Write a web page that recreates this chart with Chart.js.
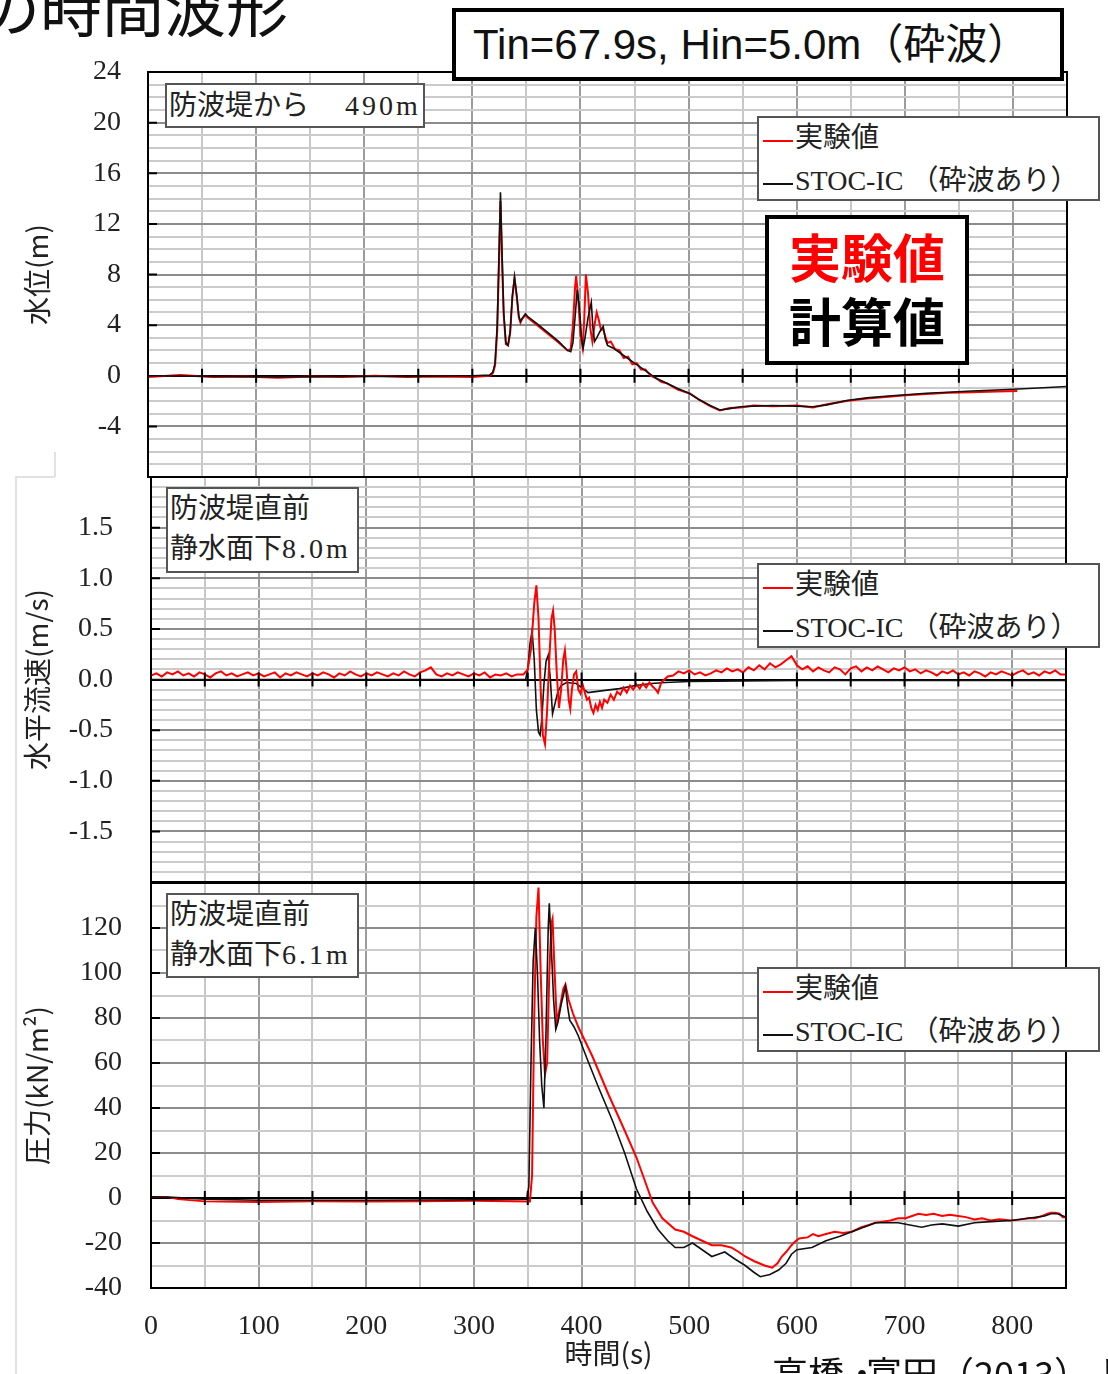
<!DOCTYPE html>
<html>
<head>
<meta charset="utf-8">
<script src="https://cdn.jsdelivr.net/npm/chart.js@4.4.1/dist/chart.umd.min.js"></script>
<style>
  body { margin: 0; width: 1108px; height: 1374px; overflow: hidden; background: #fff; position: relative;
         font-family: "Noto Sans CJK JP", sans-serif; color: #111; }
  canvas { position: absolute; left: 0; }
  .ov { position: absolute; z-index: 5; box-sizing: border-box; }
  .title { left: -22px; top: -26px; font-size: 62px; line-height: 1; white-space: nowrap; }
  .cond { left: 452px; top: 8px; width: 612px; height: 73px; border: 4px solid #000; background: #fff;
          font-family: "Liberation Sans", "Noto Sans CJK JP", sans-serif; font-size: 42px; line-height: 65px; padding-left: 17px; white-space: nowrap; }
  .big { left: 765px; top: 215px; width: 204px; height: 150px; border: 4px solid #000; background: #fff;
         font-weight: bold; font-size: 52px; line-height: 64px; text-align: center; padding-top: 5px; }
  .legend, .note { border: 2px solid #555; background: #fff; font-family: "Liberation Serif", "Noto Sans CJK JP", serif;
         font-size: 28px; color: #222; white-space: nowrap; }
  .legend { left: 757px; width: 343px; height: 85px; }
  .lrow { position: absolute; left: 4px; height: 40px; line-height: 40px; }
  .sw { display: inline-block; width: 30px; height: 2px; vertical-align: middle; margin-right: 2px; }
  .note { line-height: 40px; padding-left: 2px; }
  .lat { letter-spacing: 3px; }
  .cite { left: 772px; top: 1354px; font-size: 36px; line-height: 1; white-space: nowrap; }
  .dot { display: inline-block; width: 22px; text-align: center; overflow: visible; }
  .edge { left: 15px; top: 476px; width: 40px; height: 900px; border-left: 2px solid #e2e2e2; border-top: 2px solid #e2e2e2; z-index: 0; }
  .edge2 { left: 54px; top: 452px; width: 2px; height: 25px; background: #e2e2e2; z-index: 0; }
</style>
</head>
<body>
<div class="ov title">の時間波形</div>
<div class="ov cond">Tin=67.9s, Hin=5.0m（砕波）</div>
<div class="ov edge"></div>
<div class="ov edge2"></div>

<canvas id="c1" width="1108" height="438" style="top:42px"></canvas>
<canvas id="c2" width="1108" height="420" style="top:470px"></canvas>
<canvas id="c3" width="1108" height="501" style="top:873px"></canvas>

<div class="ov big"><div style="color:#ff0000">実験値</div><div style="color:#000">計算値</div></div>
<div class="ov note" style="left:165px;top:83px;width:260px;height:45px;line-height:41px">防波堤から　<span class="lat" style="margin-left:8px">490m</span></div>
<div class="ov note" style="left:166px;top:487px;width:193px;height:86px">防波堤直前<br>静水面下<span class="lat">8.0m</span></div>
<div class="ov note" style="left:166px;top:893px;width:193px;height:85px">防波堤直前<br>静水面下<span class="lat">6.1m</span></div>
<div class="ov cite">高橋<span class="dot">・</span>富田（2013）より</div>

<script>
// series names
const seriesNames = ['実験値', 'STOC-IC （砕波あり）'];

// x axis (time, s)
const timeTicks = [50, 100, 150, 200, 250, 300, 350, 400, 450, 500, 550, 600, 650, 700, 750, 800];

// water level (m), 490 m from the breakwater
const wlExp = [[0,-0.1],[30,0.05],[60,-0.1],[90,-0.05],[120,-0.15],[150,-0.05],[180,-0.1],[210,0.0],[240,-0.1],[270,-0.05],[300,-0.1],
  [316,0.0],[319,0.2],[321,0.8],[323,3.5],[324.5,8.5],[326,13.8],[327.5,9.0],[329,4.8],[331,2.5],[333,2.4],[335,3.4],[337,6.2],[339,7.7],
  [341,6.3],[343,4.6],[344.5,4.2],[346,4.5],[349,4.8],[351,4.6],[360,4.0],[370,3.3],[380,2.6],[388,2.0],[391,2.1],[393,4.0],[395,7.0],
  [396,7.9],[398,6.0],[400,3.2],[402,2.2],[403.5,4.5],[405,8.0],[407,6.5],[409,3.8],[411,2.7],[413,4.0],[415,5.0],[417,4.4],[419,3.6],
  [421,3.7],[423,3.1],[425,2.6],[428,2.7],[432,2.1],[436,2.0],[440,1.4],[444,1.5],[448,0.9],[452,1.0],[456,0.5],[460,0.5],[465,0.0],
  [470,-0.2],[475,-0.5],[480,-0.6],[490,-1.1],[501,-1.4],[510,-1.9],[520,-2.4],[529,-2.75],[538,-2.55],[548,-2.5],[560,-2.35],[578,-2.4],
  [600,-2.35],[615,-2.5],[628,-2.25],[646,-2.0],[665,-1.8],[685,-1.65],[701,-1.55],[720,-1.45],[740,-1.35],[762,-1.3],[785,-1.25],[804,-1.2]];
const wlCalc = [[0,0],[60,-0.05],[120,-0.1],[180,-0.05],[240,-0.05],[300,0],[316,0.05],[319,0.3],[321,1.0],[323,4.0],[324.5,9.0],[326,14.5],
  [327.5,9.5],[329,5.0],[331,2.6],[333,2.4],[335,3.5],[337,6.3],[339,7.8],[341,6.4],[343,4.7],[344.5,4.3],[346,4.5],[349,4.9],[351,4.7],
  [360,4.1],[370,3.4],[380,2.7],[388,2.0],[391,1.9],[393,2.6],[395,4.6],[397,6.8],[399,5.4],[401,3.0],[402.5,2.2],[404,2.9],[407,4.6],
  [410,5.8],[411.5,3.8],[413,2.7],[415,3.0],[418,3.5],[421,3.9],[423,2.9],[425,2.4],[430,2.2],[440,1.6],[450,1.0],[460,0.4],[470,-0.2],
  [480,-0.6],[490,-1.0],[501,-1.4],[510,-1.9],[520,-2.35],[529,-2.7],[538,-2.6],[548,-2.45],[560,-2.4],[578,-2.35],[600,-2.4],[615,-2.45],
  [628,-2.3],[646,-1.95],[665,-1.75],[685,-1.6],[701,-1.5],[720,-1.38],[740,-1.3],[762,-1.2],[785,-1.12],[805,-1.05],[828,-0.95],[850,-0.85]];

// horizontal velocity (m/s), 8.0 m below still water level
const velExp = [[0,0.04],[5,0.06],[10,0.03],[15,0.07],[20,0.05],[25,0.08],[30,0.04],[35,0.06],[40,0.03],[45,0.07],[50,0.05],[55,0.02],
  [60,0.06],[65,0.08],[70,0.04],[75,0.06],[80,0.03],[85,0.05],[90,0.07],[95,0.04],[100,0.06],[105,0.03],[110,0.05],[115,0.07],[120,0.02],
  [125,0.06],[130,0.04],[135,0.07],[140,0.05],[145,0.03],[150,0.06],[155,0.04],[160,0.07],[165,0.05],[170,0.02],[175,0.06],[180,0.04],
  [185,0.08],[190,0.05],[195,0.03],[200,0.06],[205,0.04],[210,0.07],[215,0.05],[220,0.03],[225,0.06],[230,0.04],[235,0.08],[240,0.05],
  [245,0.03],[250,0.07],[255,0.09],[260,0.12],[265,0.05],[270,0.03],[275,0.06],[280,0.04],[285,0.07],[290,0.05],[295,0.03],[300,0.06],
  [305,0.04],[310,0.07],[315,0.02],[320,0.05],[325,0.04],[330,0.06],[335,0.03],[340,0.05],[346,0.05],
  [350,0.1],[353,0.3],[356,0.75],[358,0.93],[360,0.6],[362,-0.1],[364,-0.55],[366,-0.64],[368,-0.3],[370,0.2],[372,0.6],[373.5,0.68],
  [375,0.5],[377,0.05],[379,-0.28],[381,-0.1],[383,0.2],[384.5,0.29],[386,0.1],[388,-0.2],[389.5,-0.29],[391,-0.1],[393,0.05],[395,0.08],
  [397,-0.1],[399,-0.14],[401,-0.05],[403,-0.13],[405,-0.2],[407,-0.18],[409,-0.28],[411,-0.33],[413,-0.25],[415,-0.3],[417,-0.22],
  [419,-0.28],[421,-0.2],[424,-0.23],[427,-0.15],[430,-0.2],[433,-0.12],[436,-0.15],[439,-0.08],[442,-0.13],[445,-0.06],[448,-0.1],
  [451,-0.05],[454,-0.09],[457,-0.04],[460,-0.08],[463,-0.03],[466,-0.07],[469,-0.1],[471,-0.13],[474,-0.03],[477,0.0],[480,0.03],
  [485,0.04],[490,0.08],[495,0.06],[500,0.09],[505,0.05],[510,0.07],[515,0.04],[520,0.06],[525,0.09],[530,0.07],[535,0.11],[540,0.08],
  [545,0.1],[550,0.07],[555,0.12],[560,0.09],[565,0.14],[570,0.1],[575,0.16],[580,0.12],[585,0.15],[590,0.19],[595,0.23],[600,0.14],
  [605,0.1],[610,0.13],[615,0.08],[620,0.12],[625,0.09],[630,0.07],[635,0.12],[640,0.1],[645,0.05],[650,0.11],[655,0.13],[660,0.08],
  [665,0.12],[670,0.09],[675,0.13],[680,0.1],[685,0.07],[690,0.11],[695,0.09],[700,0.12],[705,0.08],[710,0.1],[715,0.06],[720,0.09],
  [725,0.07],[730,0.04],[735,0.08],[740,0.06],[745,0.09],[750,0.05],[755,0.07],[760,0.04],[765,0.08],[770,0.06],[775,0.03],[780,0.07],
  [785,0.05],[790,0.08],[795,0.06],[800,0.04],[805,0.07],[810,0.09],[815,0.05],[820,0.07],[825,0.04],[830,0.08],[835,0.06],[840,0.09],
  [845,0.05],[850,0.05]];
const velCalc = [[0,0],[348,0],[350,0.1],[352,0.35],[354,0.48],[356,0.2],[358,-0.3],[360,-0.52],[361.5,-0.55],[363,-0.4],[365,-0.05],
  [367,0.18],[369,0.24],[371,0.0],[373,-0.34],[375,-0.25],[378,-0.12],[381,-0.06],[386,-0.03],[395,-0.04],[400,-0.08],[406,-0.13],
  [420,-0.11],[435,-0.09],[450,-0.06],[465,-0.04],[478,-0.03],[500,-0.02],[600,-0.01],[850,-0.01]];

// pressure (kN/m2), 6.1 m below still water level
const presExp = [[0,0.5],[15,0.5],[25,-0.5],[50,-1.5],[100,-1.8],[150,-1.5],[200,-1.6],[250,-1.4],[300,-1.2],[352,-1.5],[354,10],
  [356,80],[358,125],[360,138],[362,100],[364,70],[366,55],[368,60],[370,100],[372,122],[373,124],[375,100],[377,78],[380,85],[383,93],
  [385,95],[388,88],[392,82],[397,76],[410,63],[425,46],[440,30],[451,18],[460,6],[466,-2],[475,-9],[487,-14],[495,-15],[503,-17],
  [512,-19],[521,-21],[530,-21],[539,-22],[546,-24],[552,-26],[560,-28],[565,-29],[570,-30],[577,-31],[582,-29],[586,-26],[590,-24],
  [595,-21],[598,-19.5],[602,-18],[610,-17.5],[615,-16],[620,-17],[627,-16],[635,-15],[643,-15.5],[651,-15],[660,-13],[667,-12],[673,-11],
  [680,-10.5],[687,-10],[694,-9],[701,-9],[707,-8],[713,-7],[720,-7.5],[727,-7],[735,-8],[742,-7.5],[750,-8],[757,-8.5],[765,-9.5],
  [772,-9],[780,-10],[788,-9.5],[799,-10],[808,-9.5],[815,-9],[821,-9],[828,-8],[833,-7],[836,-6.5],[840,-6.5],[844,-7],[847,-8.5],[850,-8.5]];
const presCalc = [[0,0.5],[20,0.3],[50,-0.5],[100,-1.0],[200,-1.0],[300,-0.8],[349,-0.5],[351,5],[353,60],[355,105],[357,120],[359,100],
  [361,70],[363,50],[365,40],[367,75],[369,120],[370,131],[372,110],[374,88],[376,75],[378,78],[381,86],[385,94],[387,85],[389,79],
  [393,76],[397,72],[405,62],[415,50],[429,34],[440,20],[451,4],[461,-6],[471,-14],[480,-19],[487,-22],[495,-22],[503,-20],[512,-23],
  [521,-26],[527,-25],[533,-24],[542,-27],[552,-30],[560,-33],[566,-35],[575,-34],[583,-32],[590,-29],[595,-25],[600,-23],[614,-22],
  [627,-19],[640,-17],[651,-15],[662,-13],[673,-11],[685,-11],[694,-11],[705,-12],[716,-13],[725,-12],[735,-11.5],[750,-12.5],[765,-11],
  [780,-10.5],[799,-10],[815,-9],[830,-8],[836,-7],[842,-7],[850,-8.5]];

const tickFont = { family: 'Liberation Serif', size: 28 };
const titleFont = { family: 'Noto Sans CJK JP', size: 28 };

// frame + inward ticks like the original figure
const framePlugin = {
  id: 'frame',
  afterDatasetsDraw(chart, args, opts) {
    const { ctx, chartArea: a, scales } = chart;
    ctx.save();
    ctx.strokeStyle = '#000';
    ctx.lineWidth = 2;
    ctx.beginPath();
    opts.yMarks.forEach(v => {
      const py = scales.y.getPixelForValue(v);
      ctx.moveTo(a.left, py); ctx.lineTo(a.left + 9, py);
    });
    const zy = scales.y.getPixelForValue(0);
    timeTicks.forEach(v => {
      const px = scales.x.getPixelForValue(v);
      ctx.moveTo(px, zy - 7); ctx.lineTo(px, zy + 7);
    });
    ctx.stroke();
    ctx.strokeRect(a.left, a.top, a.right - a.left, a.bottom - a.top);
    ctx.restore();
  }
};

function toXY(arr) {
  return arr.map(p => ({ x: p[0], y: p[1] }));
}

function makeChart(id, c) {
  return new Chart(document.getElementById(id), {
    type: 'line',
    data: {
      datasets: [
        { label: seriesNames[0], data: toXY(c.exp), borderColor: '#ff0000', borderWidth: 2, order: c.expOrder },
        { label: seriesNames[1], data: toXY(c.calc), borderColor: '#111', borderWidth: 1.6, order: c.calcOrder }
      ]
    },
    options: {
      responsive: false,
      animation: false,
      events: [],
      layout: { padding: c.pad },
      elements: { point: { radius: 0 }, line: { tension: 0 } },
      plugins: { legend: { display: false }, tooltip: { enabled: false }, frame: { yMarks: c.yMarks } },
      scales: {
        x: {
          type: 'linear', min: 0, max: 850,
          ticks: { stepSize: 50, autoSkip: false, maxRotation: 0, display: c.showX, padding: 22,
                   font: tickFont, color: '#222', callback: v => (v % 100 === 0 ? v : '') },
          grid: { drawTicks: false, lineWidth: 2,
                  color: ctx => (ctx.tick && ctx.tick.value % 100 === 0 ? '#9c9c9c' : '#c8c8c8') },
          border: { display: false },
          title: { display: c.showX, text: '時間(s)', font: titleFont, color: '#222', padding: { top: 0, bottom: 4 } },
          afterFit: s => { s.height = c.xHeight; s.paddingLeft = 0; s.paddingRight = 0; }
        },
        y: {
          type: 'linear', min: c.yMin, max: c.yMax,
          ticks: { stepSize: c.yStep, autoSkip: false, padding: c.labelPad, font: tickFont, color: '#222',
                   callback: v => (c.isLabel(v) ? c.fmt(v) : '') },
          grid: { drawTicks: false, lineWidth: 2,
                  color: ctx => {
                    const v = ctx.tick ? ctx.tick.value : 1;
                    if (Math.abs(v) < 1e-9) return '#000';
                    return c.isLabel(v) ? '#8c8c8c' : '#cbcbcb';
                  } },
          border: { display: false },
          title: { display: true, text: c.yTitle, font: titleFont, color: '#222', padding: { top: 21, bottom: 0 } },
          afterFit: s => { s.width = c.yWidth; s.paddingTop = 0; s.paddingBottom = 0; }
        }
      }
    },
    plugins: [framePlugin]
  });
}

const near = (v, m) => Math.abs(v / m - Math.round(v / m)) < 1e-6;

makeChart('c1', {
  exp: wlExp, calc: wlCalc, expOrder: 1, calcOrder: 0,
  pad: { top: 30, right: 41, bottom: 3, left: 0 }, showX: false, xHeight: 0, yWidth: 148, labelPad: 27,
  yMin: -8, yMax: 24, yStep: 1, yTitle: '水位(m)',
  yMarks: [20, 16, 12, 8, 4, -4],
  isLabel: v => near(v, 4) && v > -8, fmt: v => String(v)
});

makeChart('c2', {
  exp: velExp, calc: velCalc, expOrder: 0, calcOrder: 1,
  pad: { top: 7, right: 42, bottom: 8, left: 0 }, showX: false, xHeight: 0, yWidth: 151, labelPad: 38,
  yMin: -2, yMax: 2, yStep: 0.1, yTitle: '水平流速(m/s)',
  yMarks: [1.5, 1.0, 0.5, -0.5, -1.0, -1.5],
  isLabel: v => near(v, 0.5) && Math.abs(v) < 1.99, fmt: v => v.toFixed(1)
});

makeChart('c3', {
  exp: presExp, calc: presCalc, expOrder: 1, calcOrder: 0,
  pad: { top: 10, right: 42, bottom: 0, left: 0 }, showX: true, xHeight: 86, yWidth: 151, labelPad: 29,
  yMin: -40, yMax: 140, yStep: 10, yTitle: '圧力(kN/m²)',
  yMarks: [120, 100, 80, 60, 40, 20, -20],
  isLabel: v => near(v, 20) && v < 139, fmt: v => String(v)
});

// legends (HTML overlay, one per panel)
const legendTops = [116, 563, 967];
const lineColors = ['#ff0000', '#111'];
legendTops.forEach(top => {
  const box = document.createElement('div');
  box.className = 'ov legend';
  box.style.top = top + 'px';
  seriesNames.forEach((name, i) => {
    const row = document.createElement('div');
    row.className = 'lrow';
    row.style.top = (i * 43) + 'px';
    row.innerHTML = '<span class="sw" style="background:' + lineColors[i] + '"></span>' + name;
    box.appendChild(row);
  });
  document.body.appendChild(box);
});
</script>
</body>
</html>
